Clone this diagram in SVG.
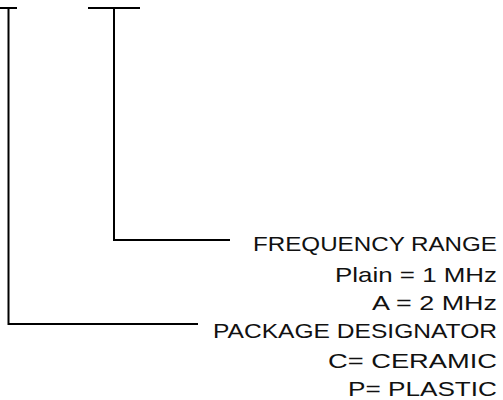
<svg xmlns="http://www.w3.org/2000/svg" width="503" height="400" viewBox="0 0 503 400">
<style>
.ln{stroke:#000;stroke-width:2;fill:none;stroke-linecap:square}
.t{font-family:"Liberation Sans",Arial,sans-serif;font-size:21px;fill:#111}
</style>
<rect width="503" height="400" fill="#fff"/>
<g id="connectors">
<path class="ln" d="M1 8H16M8.5 8V324H197"/>
<path class="ln" d="M89 8H139M114 8V240H229"/>
</g>
<g id="frequency">
<text class="t" x="253" y="251" textLength="244" lengthAdjust="spacingAndGlyphs">FREQUENCY RANGE</text>
<text class="t" x="335" y="282" textLength="162" lengthAdjust="spacingAndGlyphs">Plain = 1 MHz</text>
<text class="t" x="372" y="310" textLength="125" lengthAdjust="spacingAndGlyphs">A = 2 MHz</text>
</g>
<g id="package">
<text class="t" x="213" y="338" textLength="284" lengthAdjust="spacingAndGlyphs">PACKAGE DESIGNATOR</text>
<text class="t" x="328" y="368" textLength="169" lengthAdjust="spacingAndGlyphs">C= CERAMIC</text>
<text class="t" x="348" y="396" textLength="149" lengthAdjust="spacingAndGlyphs">P= PLASTIC</text>
</g>
</svg>
